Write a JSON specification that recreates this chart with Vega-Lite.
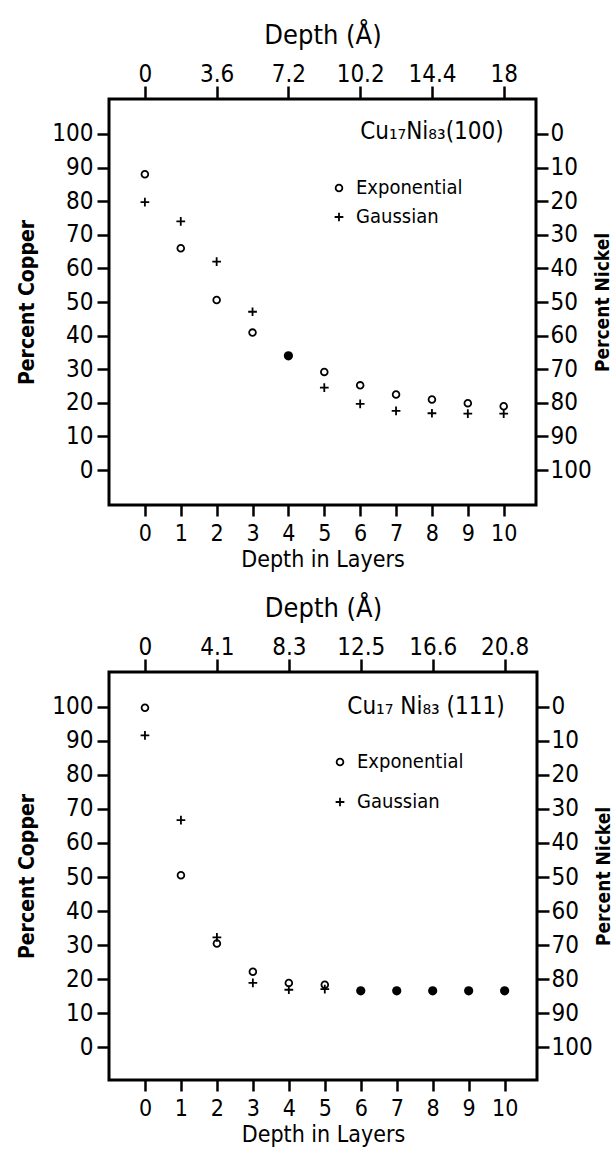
{
  "$schema": "https://vega.github.io/schema/vega-lite/v6.json",
  "background": "white",
  "padding": {"left": 15, "top": 19, "right": 0, "bottom": 0},
  "spacing": 19,
  "config": {
    "font": "DejaVu Sans Condensed, Liberation Sans Narrow, DejaVu Sans",
    "view": {"stroke": "black", "strokeWidth": 3},
    "axis": {
      "grid": false, "domain": false, "tickColor": "black", "tickWidth": 2.5,
      "labelColor": "black", "titleColor": "black", "labelFontSize": 24,
      "titleFontWeight": "normal", "labelOverlap": false, "labelFlush": false
    },
    "legend": {"labelColor": "black"}
  },
  "datasets": {
    "p1": [
      {"layer": 0, "cu": 88.0, "model": "Exponential"},
      {"layer": 1, "cu": 66.0, "model": "Exponential"},
      {"layer": 2, "cu": 50.6, "model": "Exponential"},
      {"layer": 3, "cu": 40.9, "model": "Exponential"},
      {"layer": 5, "cu": 29.2, "model": "Exponential"},
      {"layer": 6, "cu": 25.2, "model": "Exponential"},
      {"layer": 7, "cu": 22.5, "model": "Exponential"},
      {"layer": 8, "cu": 21.0, "model": "Exponential"},
      {"layer": 9, "cu": 19.9, "model": "Exponential"},
      {"layer": 10, "cu": 19.0, "model": "Exponential"},
      {"layer": 0, "cu": 79.7, "model": "Gaussian"},
      {"layer": 1, "cu": 74.0, "model": "Gaussian"},
      {"layer": 2, "cu": 62.0, "model": "Gaussian"},
      {"layer": 3, "cu": 47.1, "model": "Gaussian"},
      {"layer": 5, "cu": 24.5, "model": "Gaussian"},
      {"layer": 6, "cu": 19.7, "model": "Gaussian"},
      {"layer": 7, "cu": 17.6, "model": "Gaussian"},
      {"layer": 8, "cu": 16.9, "model": "Gaussian"},
      {"layer": 9, "cu": 16.8, "model": "Gaussian"},
      {"layer": 10, "cu": 16.8, "model": "Gaussian"},
      {"layer": 4, "cu": 34.0, "model": "Both"}
    ],
    "p2": [
      {"layer": 0, "cu": 99.7, "model": "Exponential"},
      {"layer": 1, "cu": 50.5, "model": "Exponential"},
      {"layer": 2, "cu": 30.5, "model": "Exponential"},
      {"layer": 3, "cu": 22.2, "model": "Exponential"},
      {"layer": 4, "cu": 18.9, "model": "Exponential"},
      {"layer": 5, "cu": 18.4, "model": "Exponential"},
      {"layer": 0, "cu": 91.6, "model": "Gaussian"},
      {"layer": 1, "cu": 66.7, "model": "Gaussian"},
      {"layer": 2, "cu": 32.3, "model": "Gaussian"},
      {"layer": 3, "cu": 18.9, "model": "Gaussian"},
      {"layer": 4, "cu": 16.9, "model": "Gaussian"},
      {"layer": 5, "cu": 17.1, "model": "Gaussian"},
      {"layer": 6, "cu": 16.6, "model": "Both"},
      {"layer": 7, "cu": 16.6, "model": "Both"},
      {"layer": 8, "cu": 16.6, "model": "Both"},
      {"layer": 9, "cu": 16.6, "model": "Both"},
      {"layer": 10, "cu": 16.6, "model": "Both"}
    ],
    "t1": [{"layer": 10, "cu": 100.5, "label": "Cu₁₇Ni₈₃(100)"}],
    "t2": [{"layer": 10, "cu": 100.0, "label": "Cu₁₇ Ni₈₃ (111)"}]
  },
  "vconcat": [
    {
      "width": 427, "height": 406,
      "layer": [
        {
          "layer": [
            {
              "data": {"name": "p1"},
              "transform": [{"filter": "datum.model !== 'Both'"}],
              "mark": {"type": "point", "filled": false, "color": "black", "strokeWidth": 1.8, "size": 45, "opacity": 1},
              "encoding": {
                "x": {"field": "layer", "type": "quantitative", "scale": {"domain": [-1, 10.9], "nice": false, "zero": false},
                  "axis": {"orient": "bottom", "values": [0,1,2,3,4,5,6,7,8,9,10], "tickSize": 11, "labelPadding": 6, "labelFontSize": 23, "title": "Depth in Layers", "titleFontSize": 23, "titlePadding": 3}},
                "y": {"field": "cu", "type": "quantitative", "scale": {"domain": [-10.4, 110.4], "nice": false, "zero": false},
                  "axis": {"orient": "left", "values": [0,10,20,30,40,50,60,70,80,90,100], "tickSize": 12, "labelPadding": 4, "title": "Percent Copper", "titleFontSize": 21, "titleFontWeight": "bold", "titlePadding": 14}},
                "shape": {"field": "model", "type": "nominal",
                  "scale": {"domain": ["Exponential", "Gaussian"], "range": ["circle", "M-1.3,0H1.3M0,-1.3V1.3"]},
                  "legend": {"orient": "none", "legendX": 220, "legendY": 79, "title": null, "padding": 0, "labelFontSize": 20, "labelOffset": 7, "rowPadding": 9, "symbolSize": 45, "symbolStrokeWidth": 1.8, "symbolStrokeColor": "black"}}
              }
            },
            {
              "data": {"name": "p1"},
              "transform": [{"filter": "datum.model === 'Both'"}],
              "mark": {"type": "point", "filled": true, "shape": "circle", "color": "black", "size": 85, "opacity": 1},
              "encoding": {
                "x": {"field": "layer", "type": "quantitative", "scale": {"domain": [-1, 10.9], "nice": false, "zero": false}},
                "y": {"field": "cu", "type": "quantitative", "scale": {"domain": [-10.4, 110.4], "nice": false, "zero": false}}
              }
            },
            {
              "data": {"name": "t1"},
              "mark": {"type": "text", "align": "right", "baseline": "middle", "fontSize": 24, "color": "black"},
              "encoding": {
                "x": {"field": "layer", "type": "quantitative", "scale": {"domain": [-1, 10.9], "nice": false, "zero": false}},
                "y": {"field": "cu", "type": "quantitative", "scale": {"domain": [-10.4, 110.4], "nice": false, "zero": false}},
                "text": {"field": "label"}
              }
            }
          ]
        },
        {
          "data": {"name": "p1"},
          "mark": {"type": "point", "opacity": 0},
          "encoding": {
            "x": {"field": "layer", "type": "quantitative", "scale": {"domain": [-1, 10.9], "nice": false, "zero": false},
              "axis": {"orient": "top", "values": [0,2,4,6,8,10], "labelExpr": "['0','','3.6','','7.2','','10.2','','14.4','','18'][datum.value]", "tickSize": 13, "labelPadding": 0, "title": "Depth (Å)", "titleFontSize": 27, "titlePadding": 13}},
            "y": {"field": "cu", "type": "quantitative", "scale": {"domain": [-10.4, 110.4], "nice": false, "zero": false},
              "axis": {"orient": "right", "values": [0,10,20,30,40,50,60,70,80,90,100], "labelExpr": "100 - datum.value", "tickSize": 12, "labelPadding": 2, "title": "Percent Nickel", "titleAngle": 270, "titleBaseline": "top", "titleFontSize": 19, "titleFontWeight": "bold", "titlePadding": 2}}
          }
        }
      ],
      "resolve": {"scale": {"x": "independent", "y": "independent"}}
    },
    {
      "width": 428, "height": 408,
      "layer": [
        {
          "layer": [
            {
              "data": {"name": "p2"},
              "transform": [{"filter": "datum.model !== 'Both'"}],
              "mark": {"type": "point", "filled": false, "color": "black", "strokeWidth": 1.8, "size": 45, "opacity": 1},
              "encoding": {
                "x": {"field": "layer", "type": "quantitative", "scale": {"domain": [-1, 10.9], "nice": false, "zero": false},
                  "axis": {"orient": "bottom", "values": [0,1,2,3,4,5,6,7,8,9,10], "tickSize": 11, "labelPadding": 6, "labelFontSize": 23, "title": "Depth in Layers", "titleFontSize": 23, "titlePadding": 3}},
                "y": {"field": "cu", "type": "quantitative", "scale": {"domain": [-9.6, 110.2], "nice": false, "zero": false},
                  "axis": {"orient": "left", "values": [0,10,20,30,40,50,60,70,80,90,100], "tickSize": 12, "labelPadding": 4, "title": "Percent Copper", "titleFontSize": 21, "titleFontWeight": "bold", "titlePadding": 14}},
                "shape": {"field": "model", "type": "nominal",
                  "scale": {"domain": ["Exponential", "Gaussian"], "range": ["circle", "M-1.3,0H1.3M0,-1.3V1.3"]},
                  "legend": {"orient": "none", "legendX": 221, "legendY": 80, "title": null, "padding": 0, "labelFontSize": 20, "labelOffset": 7, "rowPadding": 20, "symbolSize": 45, "symbolStrokeWidth": 1.8, "symbolStrokeColor": "black"}}
              }
            },
            {
              "data": {"name": "p2"},
              "transform": [{"filter": "datum.model === 'Both'"}],
              "mark": {"type": "point", "filled": true, "shape": "circle", "color": "black", "size": 85, "opacity": 1},
              "encoding": {
                "x": {"field": "layer", "type": "quantitative", "scale": {"domain": [-1, 10.9], "nice": false, "zero": false}},
                "y": {"field": "cu", "type": "quantitative", "scale": {"domain": [-9.6, 110.2], "nice": false, "zero": false}}
              }
            },
            {
              "data": {"name": "t2"},
              "mark": {"type": "text", "align": "right", "baseline": "middle", "fontSize": 24, "color": "black"},
              "encoding": {
                "x": {"field": "layer", "type": "quantitative", "scale": {"domain": [-1, 10.9], "nice": false, "zero": false}},
                "y": {"field": "cu", "type": "quantitative", "scale": {"domain": [-9.6, 110.2], "nice": false, "zero": false}},
                "text": {"field": "label"}
              }
            }
          ]
        },
        {
          "data": {"name": "p2"},
          "mark": {"type": "point", "opacity": 0},
          "encoding": {
            "x": {"field": "layer", "type": "quantitative", "scale": {"domain": [-1, 10.9], "nice": false, "zero": false},
              "axis": {"orient": "top", "values": [0,2,4,6,8,10], "labelExpr": "['0','','4.1','','8.3','','12.5','','16.6','','20.8'][datum.value]", "tickSize": 13, "labelPadding": 0, "title": "Depth (Å)", "titleFontSize": 27, "titlePadding": 13}},
            "y": {"field": "cu", "type": "quantitative", "scale": {"domain": [-9.6, 110.2], "nice": false, "zero": false},
              "axis": {"orient": "right", "values": [0,10,20,30,40,50,60,70,80,90,100], "labelExpr": "100 - datum.value", "tickSize": 12, "labelPadding": 2, "title": "Percent Nickel", "titleAngle": 270, "titleBaseline": "top", "titleFontSize": 19, "titleFontWeight": "bold", "titlePadding": 2}}
          }
        }
      ],
      "resolve": {"scale": {"x": "independent", "y": "independent"}}
    }
  ],
  "resolve": {"scale": {"shape": "independent"}, "legend": {"shape": "independent"}}
}
